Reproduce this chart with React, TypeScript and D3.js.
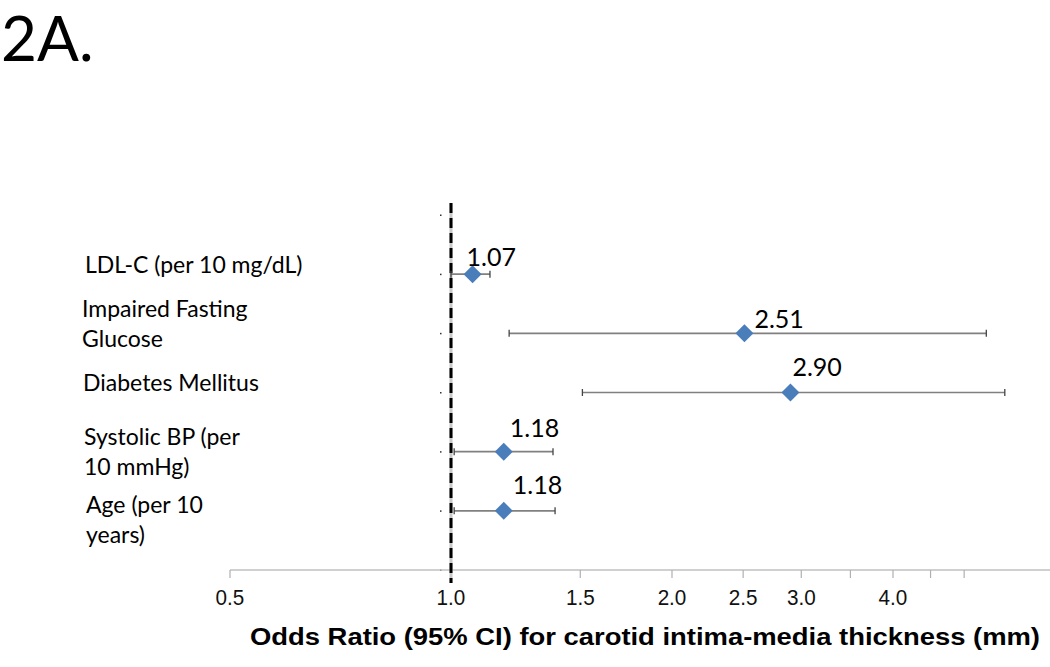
import React from "react";
import * as d3 from "d3";

const categories = [
  ["LDL-C (per 10 mg/dL)"],
  ["Impaired Fasting", "Glucose"],
  ["Diabetes Mellitus"],
  ["Systolic BP (per", "10 mmHg)"],
  ["Age (per 10", "years)"],
];
const oddsRatio = [1.07, 2.51, 2.9, 1.18, 1.18];
const ciLow = [1.0, 1.2, 1.51, 1.01, 1.01];
const ciHigh = [1.13, 5.36, 5.68, 1.377, 1.386];
const rowPos = [5, 4, 3, 2, 1];
const tickValues = [0.5, 1, 1.5, 2, 2.5, 3, 3.5, 4, 4.5, 5];
const tickLabels = [
  { v: 0.5, t: "0.5" },
  { v: 1, t: "1.0" },
  { v: 1.5, t: "1.5" },
  { v: 2, t: "2.0" },
  { v: 2.5, t: "2.5" },
  { v: 3, t: "3.0" },
  { v: 4, t: "4.0" },
];
const xTitle = "Odds Ratio (95% CI) for carotid intima-media thickness (mm)";
const panelTitle = "2A.";

// layout nudges (pixels) for labels, mimicking the original placement
const catLabelDy = [-1, -16, -2, -7, 2];
const catLabelDx = [1, -2, -1, 0, 2];
const valueLabelDx = [-6, 10, 2, 6, 9];
const valueLabelDy = [-8, -5, -17, -15, -17];

export default function App() {
  const W = 1050, H = 667;
  const x = d3.scaleLog().domain([0.5, 1]).range([230, 451]);
  const y = d3.scaleLinear().domain([0, 6]).range([570, 215]);
  const xEnd = 1050;
  const blue = "#4a7ebb";
  const gray = "#808080";
  const catFont = "Lato, 'Open Sans', sans-serif";
  const lineH = 30;

  return (
    <svg width={W} height={H} style={{ position: "absolute", left: 0, top: 0, background: "#fff" }}>
      <text x={1} y={61} fontFamily={catFont} fontSize={62} fill="#000">{panelTitle}</text>

      {d3.range(0, 7).map((i) => (
        <rect key={"d" + i} x={440} y={y(i) - 0.5} width={1.5} height={1.5} fill="#333" />
      ))}

      <line x1={x(0.5)} x2={xEnd} y1={y(0)} y2={y(0)} stroke="#c0c0c0" strokeWidth={1.5} />
      {tickValues.map((v) => (
        <line key={"t" + v} x1={x(v)} x2={x(v)} y1={y(0)} y2={y(0) + 8} stroke="#b0b0b0" strokeWidth={1.2} />
      ))}
      {tickLabels.map((d) => (
        <text key={"l" + d.v} x={x(d.v)} y={605} textAnchor="middle" fontFamily="'Liberation Sans', Arial, sans-serif" fontSize={22} fill="#111" transform={`translate(${x(d.v)},0) scale(0.94,1) translate(${-x(d.v)},0)`}>{d.t}</text>
      ))}
      <text x={645} y={645} textAnchor="middle" fontFamily="'Liberation Sans', Arial, sans-serif" fontWeight="bold" fontSize={23} fill="#000" textLength={790} lengthAdjust="spacingAndGlyphs">{xTitle}</text>

      <line x1={x(1)} x2={x(1)} y1={203} y2={583} stroke="#c8c8c8" strokeWidth={3} />
      <line x1={x(1)} x2={x(1)} y1={203} y2={583} stroke="#000" strokeWidth={3} strokeDasharray="10,5" />

      {categories.map((lines, i) => {
        const cy = y(rowPos[i]);
        const y0 = cy + catLabelDy[i];
        return (
          <text key={"c" + i} fontFamily={catFont} fontSize={23} fill="#000">
            {lines.map((ln, j) => (
              <tspan key={j} x={84 + catLabelDx[i]} y={y0 + j * lineH}>{ln}</tspan>
            ))}
          </text>
        );
      })}

      {oddsRatio.map((v, i) => {
        const cy = y(rowPos[i]);
        const xl = x(ciLow[i]), xh = x(ciHigh[i]), xm = x(v);
        const r = 9;
        return (
          <g key={"p" + i}>
            <line x1={xl} x2={xh} y1={cy} y2={cy} stroke={gray} strokeWidth={1.6} />
            <line x1={xl} x2={xl} y1={cy - 3.5} y2={cy + 3.5} stroke="#444" strokeWidth={1.3} />
            <line x1={xh} x2={xh} y1={cy - 3.5} y2={cy + 3.5} stroke="#444" strokeWidth={1.3} />
            <path d={`M${xm},${cy - r} L${xm + r},${cy} L${xm},${cy + r} L${xm - r},${cy} Z`} fill={blue} />
            <text x={xm + valueLabelDx[i]} y={cy + valueLabelDy[i]} fontFamily={catFont} fontSize={25} fill="#000">{v.toFixed(2)}</text>
          </g>
        );
      })}
    </svg>
  );
}
